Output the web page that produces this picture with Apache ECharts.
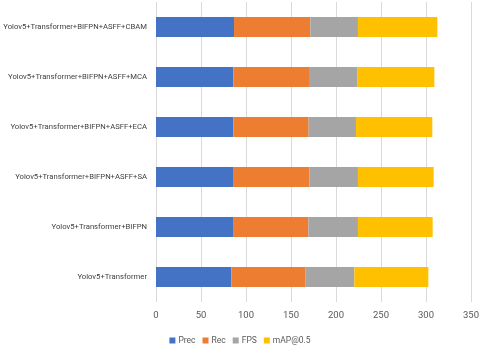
<!DOCTYPE html>
<html>
<head>
<meta charset="utf-8">
<script src="https://cdn.jsdelivr.net/npm/echarts@6/dist/echarts.min.js"></script>
<style>
	html, body { margin: 0; padding: 0; background: #fff; }
	#chart { width: 480px; height: 347px; }
</style>
</head>
<body>
<div id="chart"></div>
<script>
var categories = [
	'Yolov5+Transformer',
	'Yolov5+Transformer+BIFPN',
	'Yolov5+Transformer+BIFPN+ASFF+SA',
	'Yolov5+Transformer+BIFPN+ASFF+ECA',
	'Yolov5+Transformer+BIFPN+ASFF+MCA',
	'Yolov5+Transformer+BIFPN+ASFF+CBAM'
];
var seriesNames = [ 'Prec', 'Rec', 'FPS', 'mAP@0.5' ];
var prec = [ 83.7, 85.6, 85.6, 85.9, 85.9, 86.7 ];
var rec = [ 82.6, 83.7, 84.8, 83.7, 84.1, 84.8 ];
var fps = [ 54.1, 55.1, 54.0, 52.6, 54.0, 52.9 ];
var map05 = [ 82.2, 83.0, 84.1, 84.8, 85.3, 88.2 ];
var colors = [ '#4472C4', '#ED7D31', '#A5A5A5', '#FFC000' ];

var chartDom = document.getElementById('chart');
var myChart = echarts.init(chartDom);
var font = 'Roboto, "Liberation Sans", sans-serif';
var values = [ prec, rec, fps, map05 ];

var option = {
	animation: false,
	grid: {
		left: 156,
		right: 9,
		top: 2,
		bottom: 45,
		outerBoundsMode: 'none',
		containLabel: false
	},
	legend: {
		data: seriesNames,
		bottom: 2,
		left: 'center',
		padding: 0,
		itemWidth: 6,
		itemHeight: 6,
		itemGap: 7,
		icon: 'rect',
		textStyle: {
			fontFamily: font,
			fontSize: 8.5,
			color: '#595959',
			padding: [ 0, 0, 0, -2 ]
		}
	},
	xAxis: {
		type: 'value',
		min: 0,
		max: 350,
		interval: 50,
		axisLine: { show: false },
		axisTick: { show: false },
		axisLabel: {
			margin: 9,
			fontFamily: font,
			fontSize: 9.5,
			color: '#595959'
		},
		splitLine: {
			lineStyle: { color: '#D9D9D9', width: 1 }
		}
	},
	yAxis: {
		type: 'category',
		data: categories,
		axisLine: { show: false },
		axisTick: { show: false },
		axisLabel: {
			margin: 9,
			fontFamily: font,
			fontSize: 7.7,
			color: '#404040'
		}
	},
	series: seriesNames.map(function (name, i) {
		return {
			name: name,
			type: 'bar',
			stack: 'total',
			barWidth: 20,
			data: values[i],
			itemStyle: { color: colors[i] }
		};
	})
};

option && myChart.setOption(option);
</script>
</body>
</html>
